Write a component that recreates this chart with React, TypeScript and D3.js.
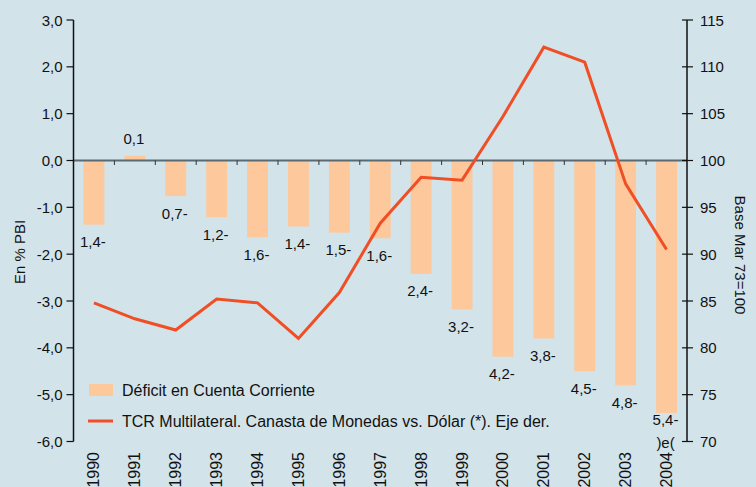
import React from "react";
import * as d3 from "d3";

const years = ["1990","1991","1992","1993","1994","1995","1996","1997","1998","1999","2000","2001","2002","2003","2004"];
const deficit = [-1.37, 0.1, -0.76, -1.21, -1.64, -1.41, -1.54, -1.66, -2.42, -3.18, -4.19, -3.8, -4.5, -4.8, -5.39];
const deficitLabels = ["1,4-","0,1","0,7-","1,2-","1,6-","1,4-","1,5-","1,6-","2,4-","3,2-","4,2-","3,8-","4,5-","4,8-","5,4-"];
const tcr = [84.8, 83.1, 81.9, 85.2, 84.8, 81.0, 85.9, 93.3, 98.2, 97.9, 104.7, 112.1, 110.5, 97.5, 90.5];
const leftTicks = [3, 2, 1, 0, -1, -2, -3, -4, -5, -6];
const rightTicks = [70, 75, 80, 85, 90, 95, 100, 105, 110, 115];
const seriesNames = ["Déficit en Cuenta Corriente", "TCR Multilateral. Canasta de Monedas vs. Dólar (*). Eje der."];

const W = 756, H = 487;
const L = 73.5, R = 687, T = 20, B = 441.5;
const FONT = "'Liberation Sans', Arial, sans-serif";
const BG = "#d3e3ea";
const BAR = "#fdc89b";
const LINE = "#f04e25";

export default function App() {
  const x = d3.scaleBand<string>().domain(years).range([L, R]).paddingInner(0.49).paddingOuter(0.245);
  const xb = d3.scaleBand<string>().domain(years).range([L, R]);
  const yL = d3.scaleLinear().domain([-6, 3]).range([B, T]);
  const yR = d3.scaleLinear().domain([70, 115]).range([B, T]);
  const line = d3.line<number>().x((_, i) => xb(years[i])! + xb.bandwidth() / 2).y((d) => yR(d));
  const fmt = (v: number) => v.toFixed(1).replace(".", ",");
  const y0 = yL(0);

  return (
    <svg width={W} height={H} style={{ position: "absolute", left: 0, top: 0, display: "block" }} fontFamily={FONT}>
      <rect x={0} y={0} width={W} height={H} fill={BG} />
      {/* bars */}
      {deficit.map((v, i) => (
        <rect key={years[i]} x={x(years[i])} width={x.bandwidth()} y={Math.min(yL(v), y0)} height={Math.abs(yL(v) - y0)} fill={BAR} />
      ))}
      {/* zero line */}
      <line x1={L} x2={R} y1={y0} y2={y0} stroke="#5a6a72" strokeWidth={2} />
      {years.slice(1).map((yr) => (
        <line key={yr} x1={xb(yr)!} x2={xb(yr)!} y1={y0} y2={y0 + 4.5} stroke="#333" strokeWidth={1} />
      ))}
      {/* bar labels */}
      {deficit.map((v, i) => {
        const cx = xb(years[i])! + xb.bandwidth() / 2;
        const last = i === deficit.length - 1;
        const yy = v >= 0 ? yL(v) - 17 : yL(v) + (last ? 7 : 17);
        return (
          <g key={"l" + i}>
            <text x={cx - 1} y={yy} fontSize={15} textAnchor="middle" dominantBaseline="central" fill="#111">{deficitLabels[i]}</text>
            {last && <text x={cx - 1} y={yy + 23} fontSize={15} textAnchor="middle" dominantBaseline="central" fill="#111">)e(</text>}
          </g>
        );
      })}
      {/* line */}
      <path d={line(tcr)!} fill="none" stroke={LINE} strokeWidth={3} strokeLinejoin="miter" />
      {/* left axis */}
      <line x1={L} x2={L} y1={T} y2={B} stroke="#111" strokeWidth={1.5} />
      {leftTicks.map((t) => (
        <g key={t}>
          <line x1={L - 7} x2={L} y1={yL(t)} y2={yL(t)} stroke="#111" strokeWidth={1.2} />
          <text x={L - 11} y={yL(t)} fontSize={15} textAnchor="end" dominantBaseline="central" fill="#111">{fmt(t)}</text>
        </g>
      ))}
      <text transform={`translate(19,252) rotate(-90)`} fontSize={15} textAnchor="middle" dominantBaseline="central" fill="#111">En % PBI</text>
      {/* right axis */}
      <line x1={R} x2={R} y1={T} y2={B} stroke="#111" strokeWidth={1.5} />
      {rightTicks.map((t) => (
        <g key={t}>
          <line x1={R - 5} x2={R + 6} y1={yR(t)} y2={yR(t)} stroke="#111" strokeWidth={1.2} />
          <text x={R + 13} y={yR(t)} fontSize={15} textAnchor="start" dominantBaseline="central" fill="#111">{t}</text>
        </g>
      ))}
      <text transform={`translate(740,255) rotate(90)`} fontSize={15} textAnchor="middle" dominantBaseline="central" fill="#111">Base Mar 73=100</text>
      {/* x labels */}
      {years.map((yr) => (
        <text key={yr} transform={`translate(${xb(yr)! + xb.bandwidth() / 2},452) rotate(-90)`} fontSize={16} textAnchor="end" dominantBaseline="central" fill="#111">{yr}</text>
      ))}
      {/* legend */}
      <rect x={89} y={384} width={24} height={12} fill={BAR} />
      <text x={122} y={390} fontSize={16} dominantBaseline="central" fill="#111">{seriesNames[0]}</text>
      <line x1={88} x2={113} y1={421} y2={421} stroke={LINE} strokeWidth={3} />
      <text x={122} y={421} fontSize={16} dominantBaseline="central" fill="#111">{seriesNames[1]}</text>
    </svg>
  );
}
